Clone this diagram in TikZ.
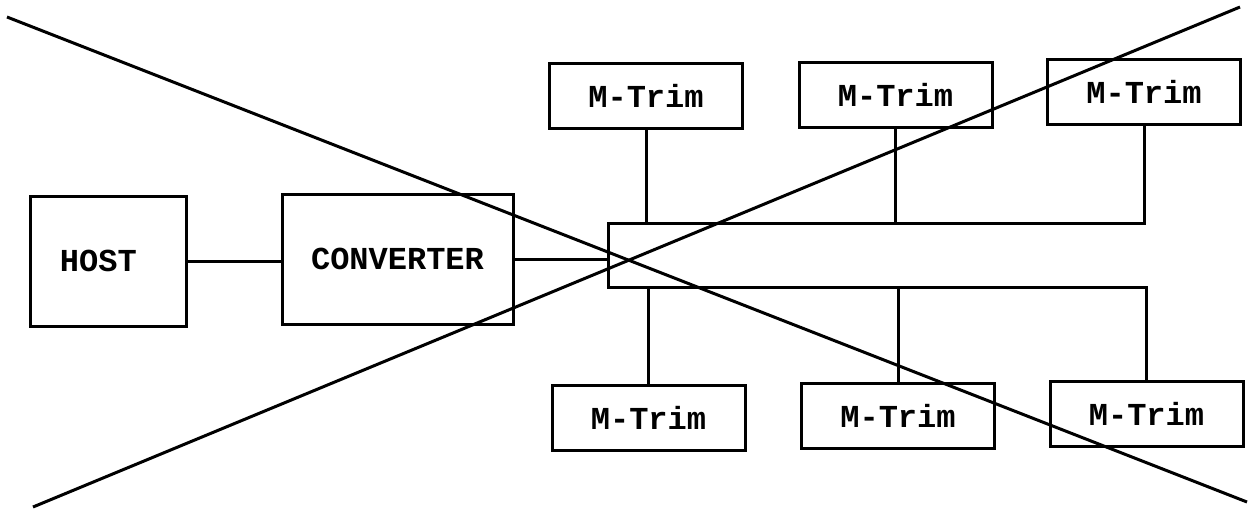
\documentclass[tikz,border=0pt]{standalone}
\usepackage{fontspec}
\setmonofont{Liberation Mono}
\usepackage{tikz}
\usetikzlibrary{calc, positioning}

\tikzset{
  unit/.style={draw, line width=1.5pt, inner sep=0pt, font=\ttfamily\bfseries\fontsize{16}{18}\selectfont},
  mtrim/.style={unit, minimum width=96.5pt, minimum height=32.5pt},
  wire/.style={line width=1.5pt},
}

\begin{document}
\begin{tikzpicture}[x=0.5pt, y=-0.5pt]
          \useasboundingbox (0,0) rectangle (1255,510);

          % Host and converter
          \node[unit, minimum height=65pt, text width=48pt, align=left, inner xsep=15pt] (host) at (108,261) {HOST};
          \node[unit, minimum width=115.5pt, minimum height=65pt] (conv) at (397.5,259) {CONVERTER};

          % M-Trim units above and below the bus
          \node[mtrim] (top1) at (646,96) {M-Trim};
          \node[mtrim] (top2) at (895.5,94.5) {M-Trim};
          \node[mtrim] (top3) at (1144,92) {M-Trim};
          \node[mtrim] (bot1) at (648.5,417.5) {M-Trim};
          \node[mtrim] (bot2) at (898,415.5) {M-Trim};
          \node[mtrim] (bot3) at (1146.5,414) {M-Trim};

          % Bus (open on the right)
          \coordinate (busnw) at (608,223);
          \coordinate (bussw) at (608,287);
          \draw[wire] (top3.south) |- (busnw) -- (bussw) -| (bot3.north);

          % Connections
          \draw[wire] (host.east) -- (host.east -| conv.west);
          \draw[wire] (conv.east) -- (conv.east -| busnw);
          \draw[wire] (top1.south) -- (top1.south |- busnw);
          \draw[wire] (top2.south) -- (top2.south |- busnw);
          \draw[wire] (bot1.north) -- (bot1.north |- bussw);
          \draw[wire] (bot2.north) -- (bot2.north |- bussw);

          % Cross over the whole figure
          \coordinate (xa) at (7,17);
          \coordinate (xb) at (1247,502);
          \coordinate (ya) at (33,507);
          \coordinate (yb) at (1240,7);
          \draw[wire] (xa) -- (xb);
          \draw[wire] (ya) -- (yb);
        \end{tikzpicture}
\end{document}
